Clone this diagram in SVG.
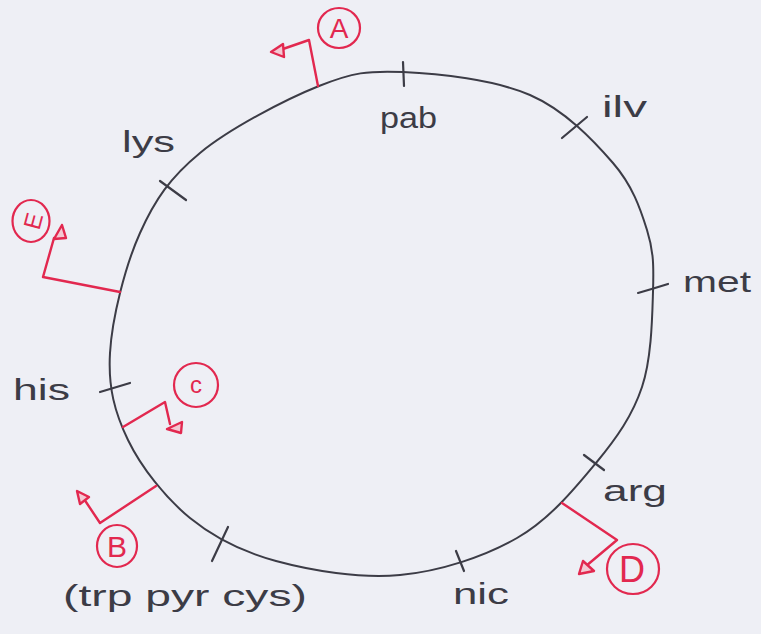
<svg xmlns="http://www.w3.org/2000/svg" width="761" height="634" viewBox="0 0 761 634">
  <defs>
    <style>
      .map { fill: none; stroke: #3c3c46; stroke-width: 2; stroke-linecap: round; stroke-linejoin: round; }
      .tick { fill: none; stroke: #3c3c46; stroke-width: 2.2; stroke-linecap: round; }
      .gene { font-family: "Liberation Sans", Arial, sans-serif; font-size: 30px; fill: #3c3c46; }
      .red { fill: none; stroke: #e2284f; stroke-width: 2.4; stroke-linecap: round; stroke-linejoin: round; }
      .head { fill: #f3c9d3; stroke: #e2284f; stroke-width: 2.4; stroke-linejoin: round; }
      .ring { fill: none; stroke: #e2284f; stroke-width: 2.2; }
      .letter { font-family: "Liberation Sans", Arial, sans-serif; fill: #e2284f; text-anchor: middle; }
    </style>
  </defs>

  <rect width="761" height="634" fill="#eeeff5"/>

  <!-- circular chromosome map -->
  <g id="chromosome">
    <path class="map" d="M 403 72 C 438.2 73.5, 495 79.8, 530 95 S 593.5 140.5, 613 163 S 640.3 208.5, 647 230 S 653.8 265.8, 653 292 S 651.5 358.5, 642 387 S 616.8 437.8, 596 463 S 549.7 519.3, 517 538 S 440.2 571.2, 400 575 S 311 570.5, 276 561 S 214.7 538.2, 190 518 S 141.3 467.5, 128 440 S 108 387.5, 110 353 S 125 266.3, 140 233 S 170.2 177.5, 200 153 S 285.2 99.5, 319 86 S 367.8 70.5, 403 72 Z"/>
  </g>

  <!-- gene markers -->
  <g id="gene-pab">
    <line class="tick" x1="403" y1="62" x2="404" y2="86"/>
    <text class="gene" x="380" y="128" textLength="57" lengthAdjust="spacingAndGlyphs">pab</text>
  </g>
  <g id="gene-ilv">
    <line class="tick" x1="562" y1="138" x2="587" y2="117"/>
    <text class="gene" x="602" y="117" textLength="45" lengthAdjust="spacingAndGlyphs">ilv</text>
  </g>
  <g id="gene-met">
    <path class="tick" d="M 638 293 Q 652 289, 668 284"/>
    <text class="gene" x="683" y="292" textLength="68" lengthAdjust="spacingAndGlyphs">met</text>
  </g>
  <g id="gene-arg">
    <line class="tick" x1="584" y1="455" x2="604" y2="470"/>
    <text class="gene" x="603" y="501" textLength="64" lengthAdjust="spacingAndGlyphs">arg</text>
  </g>
  <g id="gene-nic">
    <line class="tick" x1="456" y1="551" x2="464" y2="571"/>
    <text class="gene" x="453" y="604" textLength="56" lengthAdjust="spacingAndGlyphs">nic</text>
  </g>
  <g id="gene-trp-pyr-cys">
    <line class="tick" x1="228" y1="527" x2="212" y2="561"/>
    <text class="gene" x="63" y="606" textLength="244" lengthAdjust="spacingAndGlyphs">(trp pyr cys)</text>
  </g>
  <g id="gene-his">
    <line class="tick" x1="100" y1="392" x2="130" y2="383"/>
    <text class="gene" x="13" y="400" textLength="57" lengthAdjust="spacingAndGlyphs">his</text>
  </g>
  <g id="gene-lys">
    <line class="tick" x1="160" y1="181" x2="186" y2="200"/>
    <text class="gene" x="122" y="152" textLength="53" lengthAdjust="spacingAndGlyphs">lys</text>
  </g>

  <!-- origins of transfer, each with its direction arrow -->
  <g id="connectors">
    <polyline class="red" points="318,86 309,40 280,50"/>
    <polyline class="red" points="120,292 43,277 54,238"/>
    <polyline class="red" points="123,427 165,402 170,424"/>
    <polyline class="red" points="156,486 100,523 84,499"/>
    <polyline class="red" points="562,503 617,540 586,566"/>
  </g>

  <g id="origin-A">
    <polygon class="head" points="271,52 283,44 284,57"/>
    <ellipse class="ring" cx="339" cy="28" rx="21" ry="20"/>
    <text class="letter" x="339" y="38" font-size="28">A</text>
  </g>
  <g id="origin-E">
    <polygon class="head" points="62,225 54,239 66,238"/>
    <ellipse class="ring" cx="31" cy="221" rx="18.5" ry="21"/>
    <text class="letter" x="0" y="0" font-size="24" transform="translate(33 221) rotate(-75) translate(0 8.5)">E</text>
  </g>
  <g id="origin-C">
    <polygon class="head" points="167,429 182,422 181,433"/>
    <ellipse class="ring" cx="196" cy="385" rx="22" ry="22"/>
    <text class="letter" x="196" y="393" font-size="24">c</text>
  </g>
  <g id="origin-B">
    <polygon class="head" points="77,491 80,504 89,497"/>
    <ellipse class="ring" cx="117" cy="546" rx="20" ry="21"/>
    <text class="letter" x="117" y="557" font-size="30">B</text>
  </g>
  <g id="origin-D">
    <polygon class="head" points="579,574 583,561 594,571"/>
    <ellipse class="ring" cx="633" cy="569" rx="26" ry="25"/>
    <text class="letter" x="632" y="582" font-size="36">D</text>
  </g>
</svg>
